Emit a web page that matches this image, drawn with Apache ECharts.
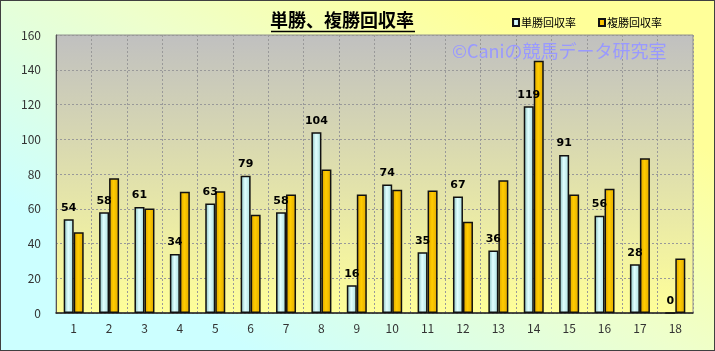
<!DOCTYPE html>
<html>
<head>
<meta charset="utf-8">
<script src="https://cdn.jsdelivr.net/npm/echarts@6/dist/echarts.min.js"></script>
<style>
  html, body { margin: 0; padding: 0; }
  #chart { width: 713px; height: 349px; border: 1px solid #404040; }
</style>
</head>
<body>
<div id="chart"></div>
<script>
// 枠番 1-18
var categories = ["1","2","3","4","5","6","7","8","9","10","11","12","13","14","15","16","17","18"];
var tanshoRate = [54, 58, 61, 34, 63, 79, 58, 104, 16, 74, 35, 67, 36, 119, 91, 56, 28, 0];
var fukushoRate = [46.5, 77.6, 60.2, 69.8, 70.1, 56.5, 68.2, 82.6, 68.2, 70.9, 70.5, 52.5, 76.4, 145.2, 68.2, 71.5, 89, 31.4];
var seriesNames = ["単勝回収率", "複勝回収率"];

var font = "'Noto Sans CJK JP', 'Liberation Sans', sans-serif";

var chart = echarts.init(document.getElementById("chart"));
chart.setOption({
  backgroundColor: new echarts.graphic.LinearGradient(0.35, 1, 0.65, 0, [
    { offset: 0, color: "#CCFFFF" },
    { offset: 0.55, color: "#EEFFCC" },
    { offset: 1, color: "#FFFF99" }
  ]),
  textStyle: { fontFamily: font },
  title: {
    text: "単勝、複勝回収率",
    left: 336,
    top: 5,
    textAlign: "center",
    textStyle: { fontSize: 18, fontWeight: "bold", color: "#000", fontFamily: font }
  },
  graphic: [
    {
      type: "line",
      shape: { x1: 270, y1: 30.5, x2: 414, y2: 30.5 },
      style: { stroke: "#000", lineWidth: 1.5 }
    },
    {
      type: "text",
      left: 451,
      top: 41,
      style: {
        text: "©Caniの競馬データ研究室",
        fontSize: 18,
        fontFamily: font,
        fill: "#9999FF"
      },
      z: 10
    }
  ],
  legend: {
    data: seriesNames,
    left: 506,
    top: 11,
    icon: "rect",
    itemWidth: 6,
    itemHeight: 7,
    itemGap: 22,
    textStyle: { fontSize: 11, color: "#000", fontFamily: font, padding: [0, 0, 0, -3] }
  },
  grid: {
    left: 55,
    right: 21,
    top: 34,
    bottom: 37,
    show: true,
    borderColor: "#909090",
    borderWidth: 1,
    backgroundColor: new echarts.graphic.LinearGradient(0, 0, 0, 1, [
      { offset: 0, color: "#C0C0C0" },
      { offset: 1, color: "#FFFF99" }
    ])
  },
  xAxis: {
    type: "category",
    data: categories,
    axisLine: { lineStyle: { color: "#222", width: 1.5 } },
    axisTick: { show: false },
    axisLabel: { fontSize: 12, color: "#333", margin: 9, fontFamily: font },
    splitLine: { show: true, lineStyle: { color: "#999", type: [2, 2], width: 1 } }
  },
  yAxis: {
    type: "value",
    min: 0,
    max: 160,
    interval: 20,
    axisLine: { show: true, lineStyle: { color: "#555", width: 1 } },
    axisTick: { show: false },
    axisLabel: { fontSize: 12, color: "#333", margin: 15, fontFamily: font },
    splitLine: { show: true, lineStyle: { color: "#999", type: [2, 2], width: 1 } }
  },
  series: [
    {
      name: seriesNames[0],
      type: "bar",
      data: tanshoRate,
      barWidth: 10,
      barGap: "0%",
      itemStyle: {
        color: new echarts.graphic.LinearGradient(0, 0, 1, 0, [
          { offset: 0, color: "#80B8B8" },
          { offset: 0.45, color: "#E0FFFF" },
          { offset: 1, color: "#A8DCDC" }
        ]),
        borderColor: "#111",
        borderWidth: 1.5
      },
      label: {
        show: true,
        position: "top",
        distance: 6,
        fontSize: 11,
        fontWeight: "bold",
        color: "#000",
        fontFamily: "'DejaVu Sans', sans-serif"
      }
    },
    {
      name: seriesNames[1],
      type: "bar",
      data: fukushoRate,
      barWidth: 10,
      itemStyle: {
        color: new echarts.graphic.LinearGradient(0, 0, 1, 0, [
          { offset: 0, color: "#D9A000" },
          { offset: 0.45, color: "#FFCC00" },
          { offset: 1, color: "#E0A800" }
        ]),
        borderColor: "#111",
        borderWidth: 1.5
      }
    }
  ]
});
</script>
</body>
</html>
